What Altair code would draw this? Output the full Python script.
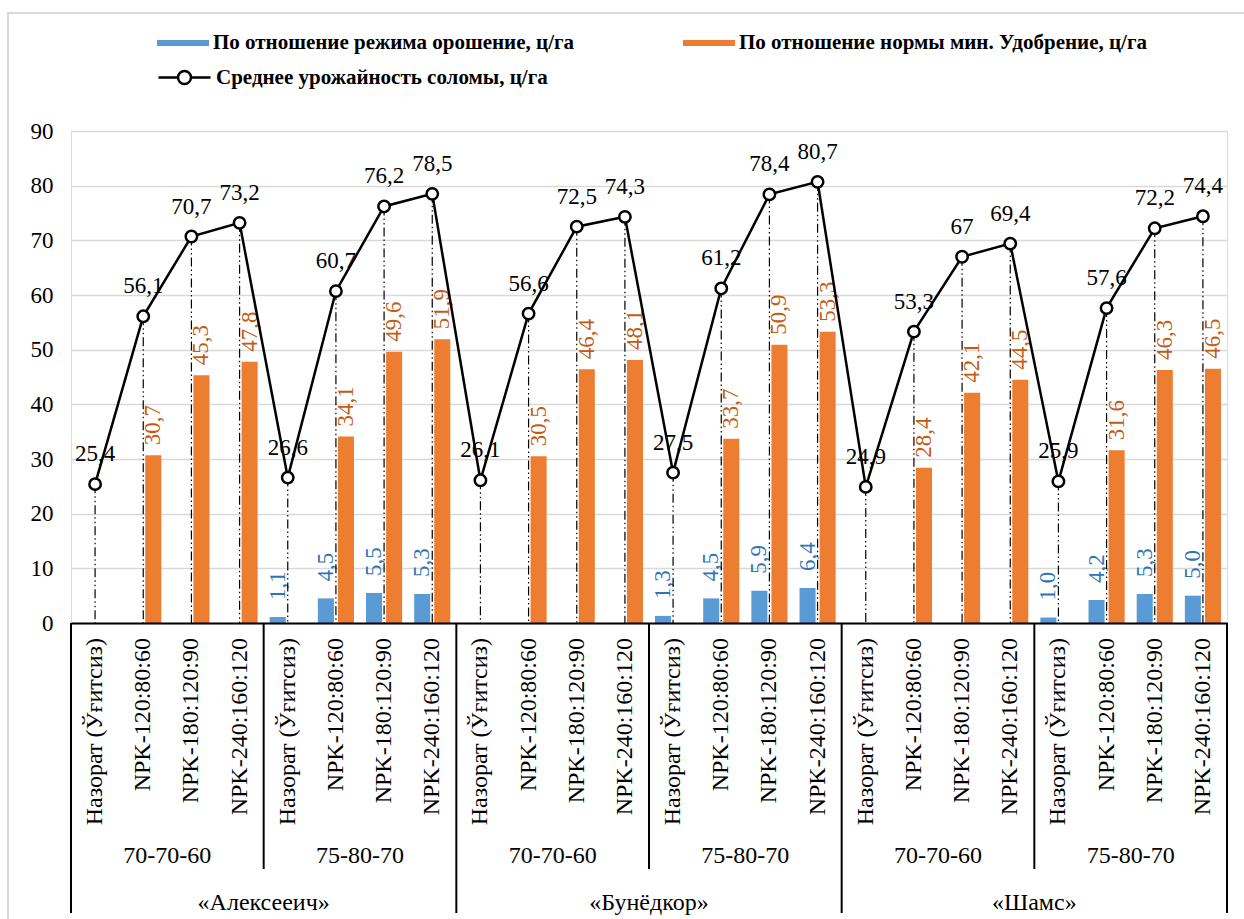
import altair as alt
import pandas as pd

# ---------------- data ----------------
varieties = ["«Алексееич»", "«Бунёдкор»", "«Шамс»"]
regimes = ["70-70-60", "75-80-70"]
fertilizers = ["Назорат (Ўғитсиз)", "NPK-120:80:60", "NPK-180:120:90", "NPK-240:160:120"]

straw = [25.4, 56.1, 70.7, 73.2, 26.6, 60.7, 76.2, 78.5,
         26.1, 56.6, 72.5, 74.3, 27.5, 61.2, 78.4, 80.7,
         24.9, 53.3, 67.0, 69.4, 25.9, 57.6, 72.2, 74.4]
irrigation = [None, None, None, None, 1.1, 4.5, 5.5, 5.3,
              None, None, None, None, 1.3, 4.5, 5.9, 6.4,
              None, None, None, None, 1.0, 4.2, 5.3, 5.0]
fertil = [None, 30.7, 45.3, 47.8, None, 34.1, 49.6, 51.9,
          None, 30.5, 46.4, 48.1, None, 33.7, 50.9, 53.3,
          None, 28.4, 42.1, 44.5, None, 31.6, 46.3, 46.5]

s_irr = "По отношение режима орошение, ц/га"
s_fert = "По отношение нормы мин. Удобрение, ц/га"
s_line = "Среднее урожайность соломы, ц/га"

# ---------------- tables ----------------
cats, cat_var, cat_reg, cat_fert = [], [], [], []
for v in varieties:
    for r in regimes:
        for f in fertilizers:
            cats.append(f"{v}|{r}|{f}")
            cat_var.append(v)
            cat_reg.append(r)
            cat_fert.append(f)

cat_df = pd.DataFrame({"cat": cats, "fert": cat_fert, "reg": cat_reg, "var": cat_var})

line_df = pd.DataFrame({
    "cat": cats,
    "val": straw,
    "lbl": [f"{v:g}".replace(".", ",") for v in straw],
    "lname": [s_line] * len(cats),
})

rows = []
for c, a, b in zip(cats, irrigation, fertil):
    if a is not None:
        rows.append({"cat": c, "series": s_irr, "val": a, "lbl": f"{a:.1f}".replace(".", ",")})
    if b is not None:
        rows.append({"cat": c, "series": s_fert, "val": b, "lbl": f"{b:.1f}".replace(".", ",")})
bar_df = pd.DataFrame(rows)

nf = len(fertilizers)
reg_rows, reg_sep = [], []
for i in range(0, len(cats), nf):
    reg_rows.append({"cat": cats[i + nf // 2], "reg": cat_reg[i]})
    if cat_reg[i] != regimes[0]:
        reg_sep.append({"cat": cats[i]})
reg_df = pd.DataFrame(reg_rows)
reg_sep_df = pd.DataFrame(reg_sep)

nv = nf * len(regimes)
var_rows, var_sep = [], []
for i in range(0, len(cats), nv):
    var_rows.append({"cat": cats[i + nv // 2], "var": cat_var[i]})
    var_sep.append({"cat": cats[i]})
var_df = pd.DataFrame(var_rows)
var_sep_df = pd.DataFrame(var_sep)
end_df = pd.DataFrame([{"cat": cats[-1]}])

# ---------------- styling ----------------
FONT = "Liberation Serif"
W, H = 1156, 492
BLUE, ORANGE = "#5B9BD5", "#ED7D31"
LEG_FS = 21

xscale = alt.Scale(domain=cats, paddingInner=0, paddingOuter=0)
xaxis = alt.Axis(labels=False, ticks=False, title=None, domain=True,
                 domainColor="black", domainWidth=2, grid=False, zindex=1)
yscale = alt.Scale(domain=[0, 90], nice=False)
yaxis = alt.Axis(values=list(range(0, 91, 10)), title=None, ticks=False, domain=False,
                 grid=True, gridColor="#D9D9D9", gridWidth=1.5, labelFont=FONT,
                 labelFontSize=23, labelColor="#000000", labelPadding=18)
offscale = alt.Scale(domain=[s_irr, s_fert], paddingInner=0.2, paddingOuter=0.3)


def X(band=None):
    if band is None:
        return alt.X("cat:N", scale=xscale, axis=xaxis, sort=cats)
    return alt.X("cat:N", scale=xscale, axis=xaxis, sort=cats, bandPosition=band)


Y = alt.Y("val:Q", scale=yscale, axis=yaxis)

rect_path = "M-1,-0.115H1V0.115H-1Z"
line_path = "M-1,0H-0.25M0.25,0H1M-0.25,0A0.25,0.25,0,1,0,0.25,0A0.25,0.25,0,1,0,-0.25,0"
SYM = 2704  # 52 px wide symbols

border = alt.Chart(pd.DataFrame({"k": [0]})).mark_rect(
    fill=None, stroke="#D9D9D9", strokeWidth=2
).encode(x=alt.value(-63), x2=alt.value(W + 100), y=alt.value(-118), y2=alt.value(H + 400))

bars = alt.Chart(bar_df).mark_bar().encode(
    x=X(),
    xOffset=alt.XOffset("series:N", scale=offscale),
    y=Y,
    color=alt.Color("series:N", scale=alt.Scale(domain=[s_irr, s_fert], range=[BLUE, ORANGE]),
                    legend=alt.Legend(title=None, orient="none", legendX=86, legendY=-114,
                                      direction="horizontal", columns=2, columnPadding=109,
                                      symbolType=rect_path, symbolSize=SYM,
                                      symbolStrokeWidth=0, symbolOpacity=1,
                                      labelFont=FONT, labelFontWeight="bold",
                                      labelFontSize=LEG_FS, labelColor="#000000",
                                      labelOffset=4, labelLimit=700, padding=0)),
)

blue_lbl = alt.Chart(bar_df).transform_filter(alt.datum.series == s_irr).mark_text(
    angle=270, align="left", baseline="middle", dx=17, font=FONT, fontSize=23, color="#2E75B6"
).encode(x=X(), xOffset=alt.XOffset("series:N", scale=offscale), y=Y, text="lbl:N")

orange_lbl = alt.Chart(bar_df).transform_filter(alt.datum.series == s_fert).mark_text(
    angle=270, align="left", baseline="middle", dx=10, font=FONT, fontSize=23, color="#C55A11"
).encode(x=X(), xOffset=alt.XOffset("series:N", scale=offscale), y=Y, text="lbl:N")

drops = alt.Chart(line_df).mark_rule(
    color="black", strokeWidth=1.2, strokeDash=[9, 3, 1.5, 3, 1.5, 3]
).encode(x=X(), y=Y, y2=alt.datum(0))

line = alt.Chart(line_df).mark_line(strokeWidth=2.5).encode(
    x=X(), y=Y,
    stroke=alt.Stroke("lname:N", scale=alt.Scale(domain=[s_line], range=["black"]),
                      legend=alt.Legend(title=None, orient="none", legendX=86, legendY=-81,
                                        symbolType=line_path, symbolSize=SYM,
                                        symbolStrokeWidth=2.5, symbolStrokeColor="black",
                                        symbolFillColor="white",
                                        labelFont=FONT, labelFontWeight="bold",
                                        labelFontSize=LEG_FS, labelColor="#000000",
                                        labelOffset=4, labelLimit=700, padding=0)),
)

points = alt.Chart(line_df).mark_point(
    shape="circle", size=130, fill="white", stroke="black", strokeWidth=2.5, opacity=1, filled=False
).encode(x=X(), y=Y)

line_lbl = alt.Chart(line_df).mark_text(
    baseline="alphabetic", dy=-23, font=FONT, fontSize=23, color="black"
).encode(x=X(), y=Y, text="lbl:N")

# ---------------- multi-level category table ----------------
fert_lbl = alt.Chart(cat_df).mark_text(
    angle=270, align="right", baseline="middle", font=FONT, fontSize=24, color="black"
).encode(x=X(), y=alt.value(H + 15), text="fert:N")

reg_lbl = alt.Chart(reg_df).mark_text(
    baseline="middle", font=FONT, fontSize=24, color="black"
).encode(x=X(0), y=alt.value(H + 233), text="reg:N")

var_lbl = alt.Chart(var_df).mark_text(
    baseline="middle", font=FONT, fontSize=24, color="black"
).encode(x=X(0), y=alt.value(H + 280), text="var:N")

reg_rules = alt.Chart(reg_sep_df).mark_rule(color="black", strokeWidth=2).encode(
    x=X(0), y=alt.value(H), y2=alt.value(H + 246))
var_rules = alt.Chart(var_sep_df).mark_rule(color="black", strokeWidth=2).encode(
    x=X(0), y=alt.value(H), y2=alt.value(H + 290))
end_rule = alt.Chart(end_df).mark_rule(color="black", strokeWidth=2).encode(
    x=X(1), y=alt.value(H), y2=alt.value(H + 290))

chart = alt.layer(
    border, bars, blue_lbl, orange_lbl, drops, line, points, line_lbl,
    fert_lbl, reg_lbl, var_lbl, reg_rules, var_rules, end_rule
).properties(
    width=W, height=H,
    autosize=alt.AutoSizeParams(type="none"),
    padding={"left": 71, "top": 131, "right": 17, "bottom": 296},
).configure_view(stroke=None).configure(background="white")

chart.save("out.html", embed_options={"renderer": "svg", "actions": False})
